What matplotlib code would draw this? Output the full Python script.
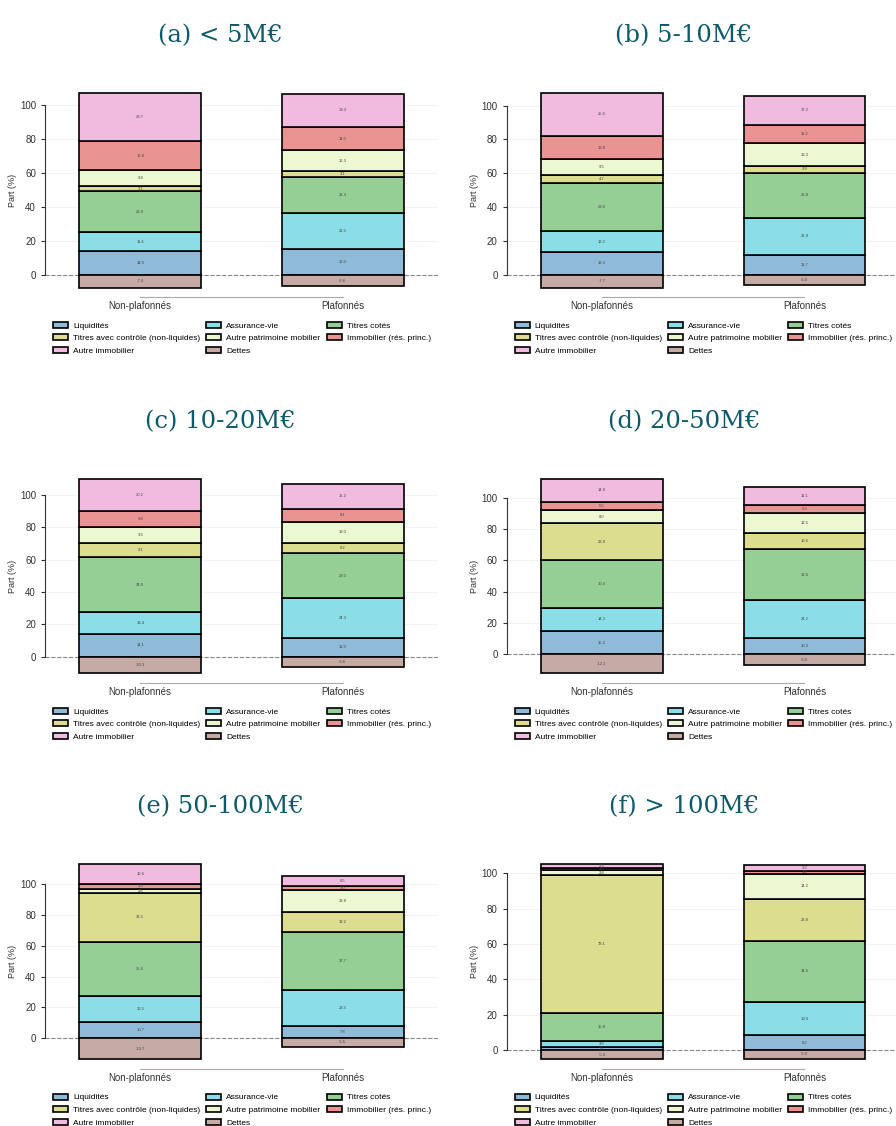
import numpy as np
import matplotlib.pyplot as plt

# Categories / groups
categories = ["Liquidités", "Assurance-vie", "Titres cotés",
              "Titres avec contrôle (non-liquides)", "Autre patrimoine mobilier",
              "Immobilier (rés. princ.)", "Autre immobilier", "Dettes"]
groups = ["Non-plafonnés", "Plafonnés"]
titles = ["(a) < 5M€", "(b) 5-10M€", "(c) 10-20M€",
          "(d) 20-50M€", "(e) 50-100M€", "(f) > 100M€"]

# Shares (%) per bracket, order = categories
lt5_non = [14.0, 11.4, 23.9, 3.1, 9.4, 16.8, 28.7, -7.4]
lt5_plaf = [15.0, 21.5, 21.4, 3.1, 12.3, 14.0, 19.3, -6.6]
m5_10_non = [13.3, 12.2, 28.6, 4.7, 9.5, 13.8, 25.6, -7.7]
m5_10_plaf = [11.7, 21.9, 26.8, 3.9, 13.3, 11.2, 17.2, -6.0]
m10_20_non = [14.1, 13.4, 34.0, 9.1, 9.6, 9.8, 20.2, -10.3]
m10_20_plaf = [11.9, 24.3, 28.0, 6.2, 13.0, 8.1, 15.2, -6.6]
m20_50_non = [15.2, 14.3, 30.4, 23.9, 8.0, 5.5, 14.8, -12.1]
m20_50_plaf = [10.3, 24.2, 32.6, 10.6, 12.5, 5.3, 11.1, -6.6]
m50_100_non = [10.7, 16.5, 35.6, 31.5, 2.8, 3.3, 12.6, -13.7]
m50_100_plaf = [7.8, 23.5, 37.7, 13.2, 13.8, 3.0, 6.5, -5.5]
gt100_non = [1.5, 3.6, 15.8, 78.1, 2.8, 1.0, 2.3, -5.3]
gt100_plaf = [8.2, 19.0, 34.6, 23.8, 14.2, 1.8, 3.3, -5.0]

panels = [(lt5_non, lt5_plaf), (m5_10_non, m5_10_plaf), (m10_20_non, m10_20_plaf),
          (m20_50_non, m20_50_plaf), (m50_100_non, m50_100_plaf), (gt100_non, gt100_plaf)]

# tab10 colours at half opacity over white
colors = ["#8fbbd9", "#8bdee7", "#95cf95", "#dddd90",
          "#ecf8d1", "#ea9393", "#f1bbe0", "#c5aaa5"]

plt.rcParams['font.family'] = ['Liberation Sans', 'DejaVu Sans']

W, H = 896, 1126
fig = plt.figure(figsize=(W / 100, H / 100), dpi=100)

ax_left = [45, 506.7]
ax_bottom = [297.3, 683.2, 1069.0]
ax_w = 393
ax_h = 214.4
title_x = [220, 684]
title_y = [36, 422, 807]

x = np.arange(len(groups))
for i, (non, plaf) in enumerate(panels):
    row, col = divmod(i, 2)
    ax = fig.add_axes([ax_left[col] / W, 1 - ax_bottom[row] / H, ax_w / W, ax_h / H])
    data = np.array([non, plaf])
    pos_base = np.zeros(2)
    handles = []
    for k, cat in enumerate(categories):
        vals = data[:, k]
        if vals[0] < 0:
            bottom = np.zeros(2)
        else:
            bottom = pos_base.copy()
            pos_base += vals
        b = ax.bar(x, vals, 0.6, bottom=bottom, color=colors[k], edgecolor='black',
                   linewidth=1.2, label=cat, zorder=3)
        handles.append(b)
        for xi, v, bo in zip(x, vals, bottom):
            ax.text(xi, bo + v / 2, f"{v:.1f}", ha='center', va='center',
                    fontsize=3, color='#444444', zorder=4)
    ax.axhline(0, color='#888888', linestyle='--', linewidth=0.8, zorder=2)
    ax.set_xlim(-0.47, 1.47)
    ax.set_yticks([0, 20, 40, 60, 80, 100])
    ax.yaxis.grid(True, color='#f3f3f3', linewidth=0.8, zorder=0)
    ax.set_xticks(x)
    ax.set_xticklabels(groups, fontsize=7, color='#333333')
    ax.tick_params(axis='x', length=0, pad=3)
    ax.tick_params(axis='y', labelsize=7, labelcolor='#333333', length=3, width=0.8, color='#333333')
    ax.set_ylabel("Part (%)", fontsize=6.5, color='#333333', labelpad=2)
    ax.spines['top'].set_visible(False)
    ax.spines['right'].set_visible(False)
    ax.spines['left'].set_bounds(0, 100)
    ax.spines['left'].set_color('#333333')
    ax.spines['left'].set_linewidth(0.8)
    ax.spines['bottom'].set_bounds(0, 1)
    ax.spines['bottom'].set_color('#aaaaaa')
    ax.spines['bottom'].set_linewidth(0.8)

    # legend filled column-wise, reorder so it reads row-wise
    order = [0, 3, 6, 1, 4, 7, 2, 5]
    ax.legend([handles[j] for j in order], [categories[j] for j in order],
              loc='upper left', bbox_to_anchor=((ax_left[col] + 8) / W, 1 - (ax_bottom[row] + 24.5) / H),
              bbox_transform=fig.transFigure, ncol=3, frameon=False, fontsize=6.0,
              handlelength=1.8, handleheight=0.75, handletextpad=0.6, columnspacing=0.75,
              labelspacing=0.55, borderpad=0, borderaxespad=0)

    fig.text(title_x[col] / W, 1 - title_y[row] / H, titles[i], ha='center', va='center',
             fontsize=17.5, color='#0e5a6b', family=['DejaVu Serif'])

fig.savefig('out.png', dpi=100)
